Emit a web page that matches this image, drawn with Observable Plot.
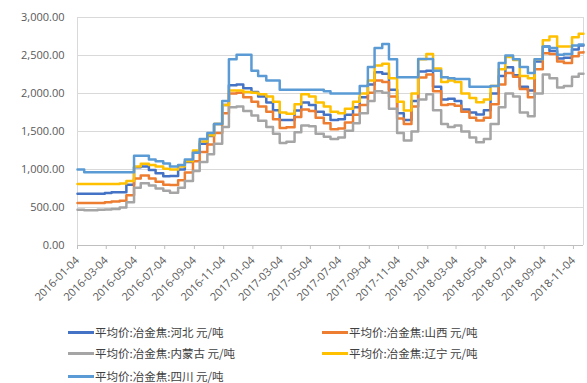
<!DOCTYPE html>
<html>
<head>
<meta charset="utf-8">
<script src="https://cdn.jsdelivr.net/npm/d3@7"></script>
<script src="https://cdn.jsdelivr.net/npm/@observablehq/plot@0.6"></script>
<style>
  body { margin: 0; background: #fff; }
  #chart svg { display: block; }
  #legend { position: relative; width: 587px; height: 71px;
            font-family: "Noto Sans CJK SC", sans-serif; font-size: 11.5px; color: #404040; }
  .item { position: absolute; display: flex; align-items: center; white-space: nowrap; line-height: 16px; }
  .sw { width: 26px; height: 3px; margin-right: 1px; }
</style>
</head>
<body>
<div id="chart"></div>
<div id="legend"></div>
<script>
// Semi-monthly sample dates (each value holds until the next date)
const dates = [
  "2016-01-04","2016-01-18","2016-02-01","2016-02-15","2016-03-01","2016-03-15","2016-04-01","2016-04-15",
  "2016-05-01","2016-05-15","2016-06-01","2016-06-15","2016-07-01","2016-07-15","2016-08-01","2016-08-15",
  "2016-09-01","2016-09-15","2016-10-01","2016-10-15","2016-11-01","2016-11-15","2016-12-01","2016-12-15",
  "2017-01-01","2017-01-15","2017-02-01","2017-02-15","2017-03-01","2017-03-15","2017-04-01","2017-04-15",
  "2017-05-01","2017-05-15","2017-06-01","2017-06-15","2017-07-01","2017-07-15","2017-08-01","2017-08-15",
  "2017-09-01","2017-09-15","2017-10-01","2017-10-15","2017-11-01","2017-11-15","2017-12-01","2017-12-15",
  "2018-01-01","2018-01-15","2018-02-01","2018-02-15","2018-03-01","2018-03-15","2018-04-01","2018-04-15",
  "2018-05-01","2018-05-15","2018-06-01","2018-06-15","2018-07-01","2018-07-15","2018-08-01","2018-08-15",
  "2018-09-01","2018-09-15","2018-10-01","2018-10-15","2018-11-01","2018-11-15","2018-11-25"
];

// Average metallurgical coke price, yuan per tonne
const hebei = [
  680,680,680,680,690,700,700,800,1030,1040,995,950,910,915,1000,1100,1230,1340,1440,1600,1850,2110,2120,2070,
  2020,1960,1880,1780,1650,1650,1775,1880,1850,1760,1720,1650,1660,1720,1820,1950,2120,2280,2260,2050,1740,1650,1900,2290,
  2300,2090,1920,1930,1900,1790,1750,1725,1780,2000,2230,2345,2240,2090,2040,2420,2620,2560,2460,2470,2580,2630,2630
];
const shanxi = [
  560,560,560,560,570,580,590,660,880,920,880,840,800,795,860,960,1110,1230,1330,1480,1740,2000,2010,1950,
  1890,1830,1760,1660,1545,1555,1690,1790,1770,1680,1610,1530,1540,1620,1720,1850,2010,2170,2150,1960,1670,1600,1830,2210,
  2250,2030,1850,1860,1840,1760,1680,1645,1680,1860,2120,2270,2220,2060,1950,2320,2530,2520,2420,2400,2490,2540,2545
];
const neimenggu = [
  470,465,465,470,475,480,500,570,760,820,790,750,720,695,760,850,980,1100,1200,1340,1560,1820,1830,1770,
  1710,1640,1560,1470,1350,1365,1490,1580,1570,1470,1430,1400,1420,1510,1610,1740,1900,2030,2010,1800,1480,1380,1500,1920,
  1990,1780,1600,1560,1580,1500,1420,1360,1400,1600,1820,2000,1960,1750,1700,2000,2250,2200,2080,2100,2220,2260,2260
];
const liaoning = [
  810,810,810,810,810,810,815,850,1040,1075,1060,1040,1010,1000,1040,1110,1250,1370,1450,1600,1850,2040,2040,2020,
  2010,1990,1960,1890,1750,1735,1860,1990,1960,1880,1830,1760,1740,1800,1890,2000,2170,2370,2390,2200,1890,1775,2000,2450,
  2520,2330,2150,2170,2150,2000,1940,1885,1920,2100,2320,2480,2440,2230,2200,2450,2700,2750,2620,2620,2740,2785,2785
];
const sichuan = [
  1000,965,965,965,965,965,965,965,1180,1180,1130,1110,1080,1040,1060,1130,1220,1400,1480,1600,1900,2450,2510,2510,
  2300,2230,2170,2170,2050,2050,2050,2050,2050,2050,2030,2000,2000,2000,2000,2100,2350,2600,2650,2450,2215,2215,2215,2455,
  2455,2300,2215,2200,2190,2190,2090,2090,2090,2100,2400,2500,2450,2350,2270,2450,2620,2600,2510,2520,2630,2645,2645
];

const seriesNames = [
  "平均价:冶金焦:河北 元/吨",
  "平均价:冶金焦:山西 元/吨",
  "平均价:冶金焦:内蒙古 元/吨",
  "平均价:冶金焦:辽宁 元/吨",
  "平均价:冶金焦:四川 元/吨"
];
const seriesColors = ["#4472C4", "#ED7D31", "#A5A5A5", "#FFC000", "#5B9BD5"];
const seriesValues = [hebei, shanxi, neimenggu, liaoning, sichuan];

const xTickLabels = [
  "2016-01-04","2016-03-04","2016-05-04","2016-07-04","2016-09-04","2016-11-04",
  "2017-01-04","2017-03-04","2017-05-04","2017-07-04","2017-09-04","2017-11-04",
  "2018-01-04","2018-03-04","2018-05-04","2018-07-04","2018-09-04","2018-11-04"
];
const yTicks = [0, 500, 1000, 1500, 2000, 2500, 3000];

const rows = seriesNames.flatMap((name, i) =>
  dates.map((d, j) => ({series: name, date: new Date(d), value: seriesValues[i][j]}))
);
const xStart = new Date(dates[0]);
const xEnd = new Date(dates[dates.length - 1]);

const chart = Plot.plot({
  width: 587,
  height: 312,
  marginLeft: 77,
  marginRight: 4,
  marginTop: 17,
  marginBottom: 67,
  style: {fontFamily: "'Open Sans', 'Noto Sans CJK SC', sans-serif", fontSize: "11px", color: "#595959", background: "#fff"},
  x: {type: "utc", domain: [xStart, xEnd]},
  y: {domain: [0, 3000]},
  color: {domain: seriesNames, range: seriesColors},
  marks: [
    Plot.gridY(yTicks, {stroke: "#d9d9d9", strokeOpacity: 1}),
    Plot.ruleX([xStart, xEnd], {y1: 0, y2: 3000, stroke: "#d9d9d9"}),
    Plot.axisY(yTicks, {tickFormat: d3.format(",.2f"), tickSize: 0, tickPadding: 13, fontSize: 11, label: null}),
    Plot.axisX(xTickLabels.map(d => new Date(d)), {
      tickFormat: d3.utcFormat("%Y-%m-%d"), tickRotate: -45, tickSize: 4, tickPadding: 9,
      stroke: "#bfbfbf", fill: "#595959", fontSize: 11, label: null
    }),
    Plot.ruleY([0], {stroke: "#bfbfbf"}),
    Plot.line(rows, {x: "date", y: "value", z: "series", stroke: "series", strokeWidth: 2.5, curve: "step-after"})
  ]
});
document.getElementById("chart").append(chart);

// Legend: two columns, rows top to bottom
const legend = document.getElementById("legend");
const colX = [68, 322];
const rowY = [12, 33, 56];
seriesNames.forEach((name, i) => {
  const item = document.createElement("div");
  item.className = "item";
  item.style.left = colX[i % 2] + "px";
  item.style.top = rowY[Math.floor(i / 2)] + "px";
  const sw = document.createElement("span");
  sw.className = "sw";
  sw.style.background = seriesColors[i];
  const label = document.createElement("span");
  label.textContent = name;
  item.append(sw, label);
  legend.append(item);
});
</script>
</body>
</html>
